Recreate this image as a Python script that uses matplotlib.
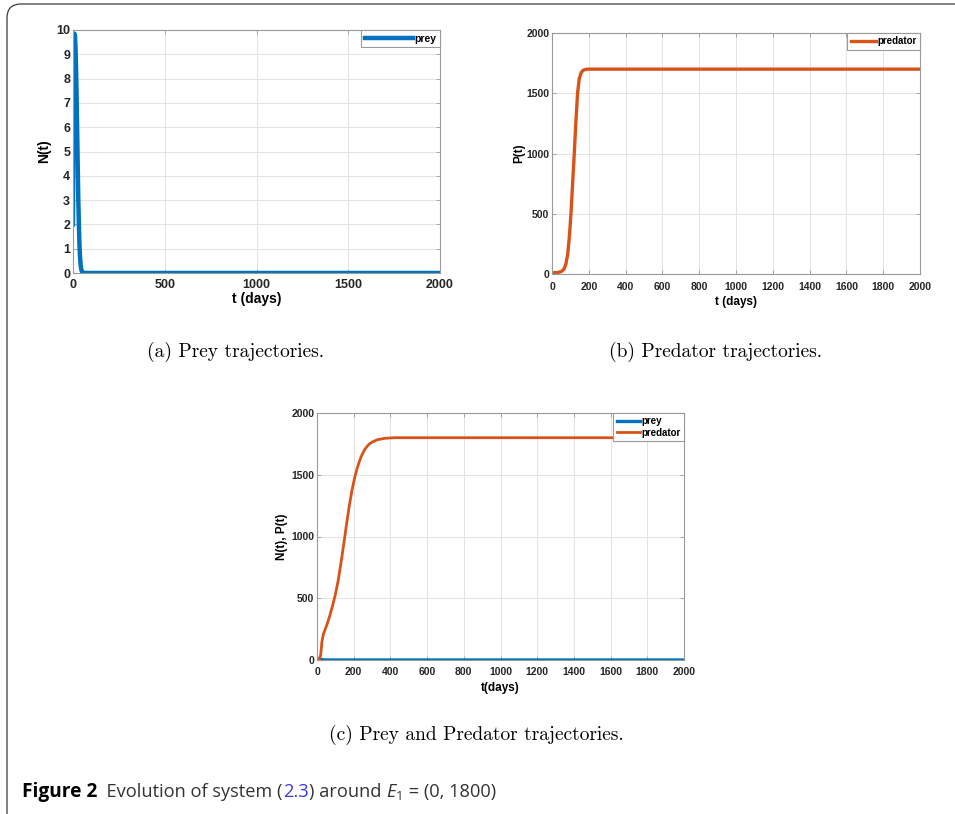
import matplotlib
matplotlib.use('Agg')
import matplotlib.pyplot as plt
from matplotlib.font_manager import FontProperties
from matplotlib.patches import FancyBboxPatch

# prey N(t), panel (a) and (c)
prey_t = [0, 1, 2, 3, 5, 8, 11, 14, 17, 20, 23, 26, 29, 32, 35, 38, 42, 46, 50, 55, 65, 2000]
prey_n = [2, 5, 7.5, 9, 9.8, 9.85, 9.7, 9.2, 8.3, 7.1, 5.7, 4.3, 3.0, 2.0, 1.2, 0.7, 0.3, 0.12, 0.05, 0.01, 0, 0]

# predator P(t), panel (b)
pred_b_t = [0, 30, 50, 65, 75, 85, 95, 103, 112, 121, 130, 139, 148, 158, 170, 190, 2000]
pred_b_p = [10, 12, 20, 40, 80, 160, 320, 500, 750, 1000, 1270, 1500, 1620, 1670, 1692, 1700, 1700]

# predator P(t), panel (c)
pred_c_t = [0, 12, 20, 27, 35, 45, 55, 70, 85, 100, 115, 130, 145, 160, 175, 190, 205,
            220, 240, 260, 280, 300, 330, 370, 420, 2000]
pred_c_p = [0, 5, 40, 150, 210, 250, 290, 360, 440, 530, 640, 780, 930, 1090, 1240, 1370, 1475,
            1560, 1645, 1705, 1742, 1765, 1784, 1795, 1800, 1800]

BLUE = '#0072BD'
ORANGE = '#D95319'

W, H = 955, 814


def ax_rect(left, top, right, bottom):
    return [left / W, 1 - bottom / H, (right - left) / W, (bottom - top) / H]


def style_axes(ax, tick_size, xpad):
    ax.grid(True, color='#e3e3e3', linewidth=0.7)
    ax.set_axisbelow(True)
    for s in ax.spines.values():
        s.set_color('#9a9a9a')
        s.set_linewidth(0.8)
    ax.tick_params(direction='in', length=3, width=0.6, color='#9a9a9a',
                   top=True, right=True, labelcolor='#262626', pad=2)
    ax.tick_params(axis='x', pad=xpad)
    fp = FontProperties(family='Liberation Sans', weight='bold', size=tick_size)
    for lab in ax.get_xticklabels() + ax.get_yticklabels():
        lab.set_fontproperties(fp)


def add_legend(ax, size, hlen):
    leg = ax.legend(loc='upper right', borderaxespad=0, fancybox=False,
                    edgecolor='#9a9a9a', framealpha=1, handlelength=hlen,
                    handletextpad=0.15, borderpad=0.35, labelspacing=0.15,
                    prop=dict(family='Liberation Sans', weight='bold', size=size))
    leg.get_frame().set_linewidth(0.8)


def label_axes(ax, xlabel, ylabel, size, xpad, ypad):
    font = dict(fontfamily='Liberation Sans', fontweight='bold', fontsize=size)
    ax.set_xlabel(xlabel, labelpad=xpad, **font)
    ax.set_ylabel(ylabel, labelpad=ypad, **font)


fig = plt.figure(figsize=(W / 100, H / 100), dpi=100)

# (a) prey
ax_a = fig.add_axes(ax_rect(73, 30, 440, 273))
ax_a.plot(prey_t, prey_n, color=BLUE, lw=3.2, label='prey')
ax_a.set_xlim(0, 2000)
ax_a.set_ylim(0, 10)
ax_a.set_xticks([0, 500, 1000, 1500, 2000])
ax_a.set_yticks(range(0, 11))
label_axes(ax_a, 't (days)', 'N(t)', 10, 1, 4)
style_axes(ax_a, 9, 4)
add_legend(ax_a, 7.5, 4.6)

# (b) predator
ax_b = fig.add_axes(ax_rect(552, 33, 920, 274))
ax_b.plot(pred_b_t, pred_b_p, color=ORANGE, lw=2.4, label='predator')
ax_b.set_xlim(0, 2000)
ax_b.set_ylim(0, 2000)
ax_b.set_xticks(range(0, 2001, 200))
ax_b.set_yticks(range(0, 2001, 500))
label_axes(ax_b, 't (days)', 'P(t)', 8.5, 3, 1)
style_axes(ax_b, 7.5, 6)
add_legend(ax_b, 7, 2.6)

# (c) both
ax_c = fig.add_axes(ax_rect(317, 413, 684, 660))
ax_c.plot(prey_t, prey_n, color=BLUE, lw=2.4, label='prey')
ax_c.plot(pred_c_t, pred_c_p, color=ORANGE, lw=2.0, label='predator')
ax_c.set_xlim(0, 2000)
ax_c.set_ylim(0, 2000)
ax_c.set_xticks(range(0, 2001, 200))
ax_c.set_yticks(range(0, 2001, 500))
label_axes(ax_c, 't(days)', 'N(t), P(t)', 8.5, 4, 2)
style_axes(ax_c, 7.5, 5)
add_legend(ax_c, 7, 2.4)

# sub-captions
cap_font = dict(family='cmr10', size=14, ha='center', va='center')
fig.text(236 / W, 1 - 352 / H, '(a) Prey trajectories.', **cap_font)
fig.text(716 / W, 1 - 352 / H, '(b) Predator trajectories.', **cap_font)
fig.text(476 / W, 1 - 735 / H, '(c) Prey and Predator trajectories.', **cap_font)

# rounded frame, cut off at right and bottom
frame = FancyBboxPatch((0.07, -0.6), 10.5, (H - 4) / 100 + 0.6,
                       boxstyle='round,pad=0,rounding_size=0.14',
                       transform=fig.dpi_scale_trans, fill=False,
                       edgecolor='#3a3a3a', linewidth=0.9)
fig.patches.append(frame)

# figure caption, pieces chained left to right
renderer = fig.canvas.get_renderer()
pieces = [
    ('Figure 2', dict(weight='bold', size=13.8), 'black', 0),
    ('  Evolution of system (', dict(), '#333333', 0),
    ('2.3', dict(), '#3b3bd9', 0),
    (') around ', dict(), '#333333', 0),
    ('E', dict(style='italic'), '#333333', 0),
    ('1', dict(size=9.5), '#333333', -3),
    (' = (0, 1800)', dict(), '#333333', 0),
]
x_px = 22
y_base = 1 - 797 / H
for txt, props, col, dy in pieces:
    kw = dict(family='Open Sans', size=13.15)
    kw.update(props)
    t = fig.text(x_px / W, y_base + dy / H, txt, color=col, va='baseline', ha='left', **kw)
    bb = t.get_window_extent(renderer=renderer)
    x_px += bb.width + (1 if txt == 'E' else 0)

fig.savefig('out.png', dpi=100)
